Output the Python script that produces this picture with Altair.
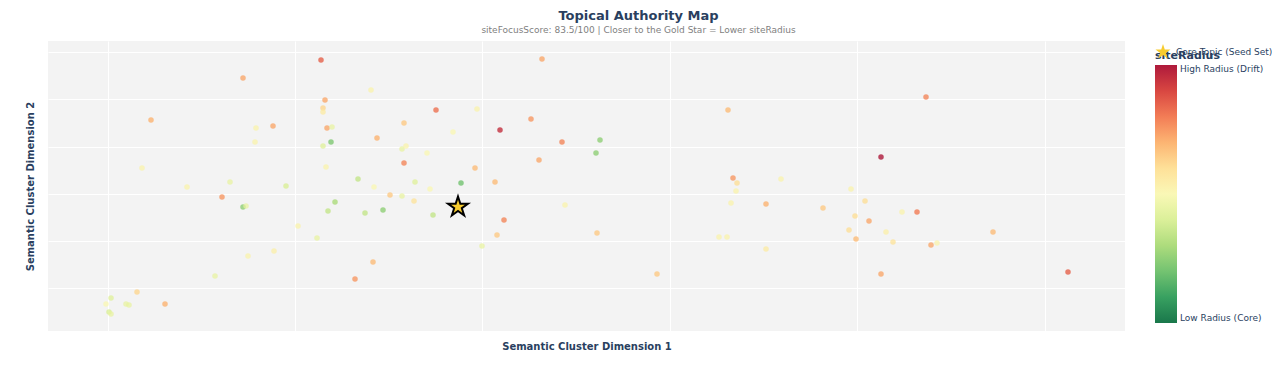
import altair as alt
import pandas as pd

# Point positions (arbitrary embedding units) and siteRadius (0..1)
x_vals = [-161, -239, -331, -157, -159, -159, -155, -150, -151, -159,
          -226, -209, -227, -340, -156, -295, -252, -196, -260, -239,
          -236, -147, -154, -184, -165, -234, -208, -267, -345, -371,
          -376, -356, -353, -317, -373, -371, 60, -111, -46, -5,
          -78, 49, 18, -29, -105, 80, 118, -80, -76, -55,
          114, -78, 57, -7, -124, -108, -67, -52, -21, 13,
          -92, -80, -68, -117, -99, -49, 83, 22, 115, 15,
          0, -109, -127, 444, 246, 399, 251, 255, 299, 369,
          254, 249, 284, 341, 383, 373, 420, 435, 387, 367,
          404, 511, 374, 411, 449, 455, 237, 245, 284, 175,
          399, 586]
y_vals = [228, 210, 168, 188, 180, 176, 160, 161, 146, 142,
          160, 162, 146, 120, 121, 101, 106, 102, 91, 81,
          82, 86, 77, 62, 50, 32, 37, 12, -4, -10,
          -16, -16, -17, -16, -24, -26, 229, 198, 178, 179,
          165, 169, 158, 156, 150, 146, 148, 139, 142, 135,
          135, 125, 128, 120, 109, 101, 106, 99, 105, 106,
          93, 92, 87, 75, 78, 73, 83, 68, 55, 53,
          42, 26, 9, 191, 178, 131, 110, 105, 109, 99,
          97, 85, 84, 80, 87, 72, 76, 76, 67, 58,
          56, 56, 49, 46, 43, 45, 51, 51, 39, 14,
          14, 16]
radius = [0.85, 0.72, 0.70, 0.72, 0.62, 0.55, 0.72, 0.45, 0.22, 0.42,
          0.52, 0.72, 0.52, 0.52, 0.52, 0.52, 0.45, 0.40, 0.75, 0.25,
          0.45, 0.30, 0.35, 0.52, 0.45, 0.52, 0.53, 0.45, 0.62, 0.42,
          0.50, 0.45, 0.45, 0.70, 0.40, 0.45, 0.72, 0.52, 0.82, 0.52,
          0.65, 0.75, 0.95, 0.50, 0.70, 0.78, 0.25, 0.45, 0.52, 0.50,
          0.25, 0.78, 0.72, 0.68, 0.35, 0.50, 0.42, 0.50, 0.20, 0.68,
          0.65, 0.45, 0.58, 0.35, 0.25, 0.35, 0.52, 0.78, 0.65, 0.65,
          0.45, 0.68, 0.75, 0.78, 0.68, 1.00, 0.75, 0.60, 0.52, 0.52,
          0.52, 0.52, 0.70, 0.65, 0.60, 0.60, 0.52, 0.80, 0.72, 0.60,
          0.53, 0.68, 0.68, 0.58, 0.72, 0.52, 0.52, 0.52, 0.55, 0.65,
          0.72, 0.85]

seed_x = [-24]
seed_y = [81]
seed_label = ["Core Topic (Seed Set)"]

x_grid = [-374, -187, 0, 188, 375, 563]
y_grid = [0, 47, 94, 141, 189, 236]
x_domain = [-434, 643]
y_domain = [-43, 247]

STAR = ("M0,-1L0.2245,-0.309L0.951,-0.309L0.363,0.118L0.588,0.809L0,0.382"
        "L-0.588,0.809L-0.363,0.118L-0.951,-0.309L-0.2245,-0.309Z")

FONT = "DejaVu Sans"
DARK = "#2a3f5f"

df = pd.DataFrame({"x": x_vals, "y": y_vals, "radius": radius})
seed = pd.DataFrame({"x": seed_x, "y": seed_y, "label": seed_label})

x_enc = alt.X("x:Q",
              scale=alt.Scale(domain=x_domain, nice=False, zero=False),
              axis=alt.Axis(title="Semantic Cluster Dimension 1", values=x_grid,
                            labels=False, ticks=False, domain=False, grid=True,
                            gridColor="white", gridWidth=1, titlePadding=10,
                            titleFont=FONT, titleFontSize=10, titleFontWeight="bold",
                            titleColor=DARK))
y_enc = alt.Y("y:Q",
              scale=alt.Scale(domain=y_domain, nice=False, zero=False),
              axis=alt.Axis(title="Semantic Cluster Dimension 2", values=y_grid,
                            labels=False, ticks=False, domain=False, grid=True,
                            gridColor="white", gridWidth=1, titlePadding=13,
                            titleFont=FONT, titleFontSize=10, titleFontWeight="bold",
                            titleColor=DARK))

points = alt.Chart(df).mark_circle(size=30, opacity=0.72).encode(
    x=x_enc,
    y=y_enc,
    color=alt.Color(
        "radius:Q",
        scale=alt.Scale(domain=[0, 1],
                        scheme=alt.SchemeParams(name="redyellowgreen", extent=[1, 0])),
        legend=alt.Legend(
            title="siteRadius", orient="none", legendX=1107, legendY=9,
            direction="vertical", gradientLength=258, gradientThickness=22,
            values=[0, 1],
            labelExpr="datum.value <= 0 ? 'Low Radius (Core)' : 'High Radius (Drift)'",
            labelOverlap=False, labelBaseline="middle", labelFont=FONT,
            labelFontSize=9, labelColor=DARK, labelOffset=3,
            titleFont=FONT, titleFontSize=11, titleFontWeight="bold",
            titleColor=DARK, titlePadding=4, gradientStrokeWidth=0,
            gradientOpacity=0.9),
    ),
)

star = alt.Chart(seed).mark_point(
    filled=True, fill="#f7cc2f", stroke="black", strokeWidth=2,
    size=440, opacity=1, fillOpacity=1,
).encode(
    x="x:Q",
    y="y:Q",
    shape=alt.Shape(
        "label:N",
        scale=alt.Scale(domain=seed_label, range=[STAR]),
        legend=alt.Legend(
            title=None, orient="none", legendX=1106, legendY=2,
            symbolSize=250, symbolFillColor="#f7cc2f", symbolStrokeColor="black",
            symbolStrokeWidth=1.5, symbolOpacity=1, labelFont=FONT,
            labelFontSize=9, labelColor=DARK, labelOffset=4),
    ),
)

chart = alt.layer(points, star).properties(
    width=1077,
    height=290,
    background="white",
    padding={"left": 40, "top": 33, "right": 147, "bottom": 30},
    autosize=alt.AutoSizeParams(type="none"),
    title=alt.TitleParams(
        text="Topical Authority Map",
        subtitle="siteFocusScore: 83.5/100 | Closer to the Gold Star = Lower siteRadius",
        anchor="middle", frame="group", dx=52,
        font=FONT, fontSize=13, fontWeight="bold", color=DARK,
        subtitleFont=FONT, subtitleFontSize=9, subtitleColor="#7f7f7f",
        subtitlePadding=3, offset=6),
).configure_view(fill="#f3f3f3", strokeWidth=0, stroke=None)

chart.save("out.html", embed_options={"renderer": "svg", "actions": False})
